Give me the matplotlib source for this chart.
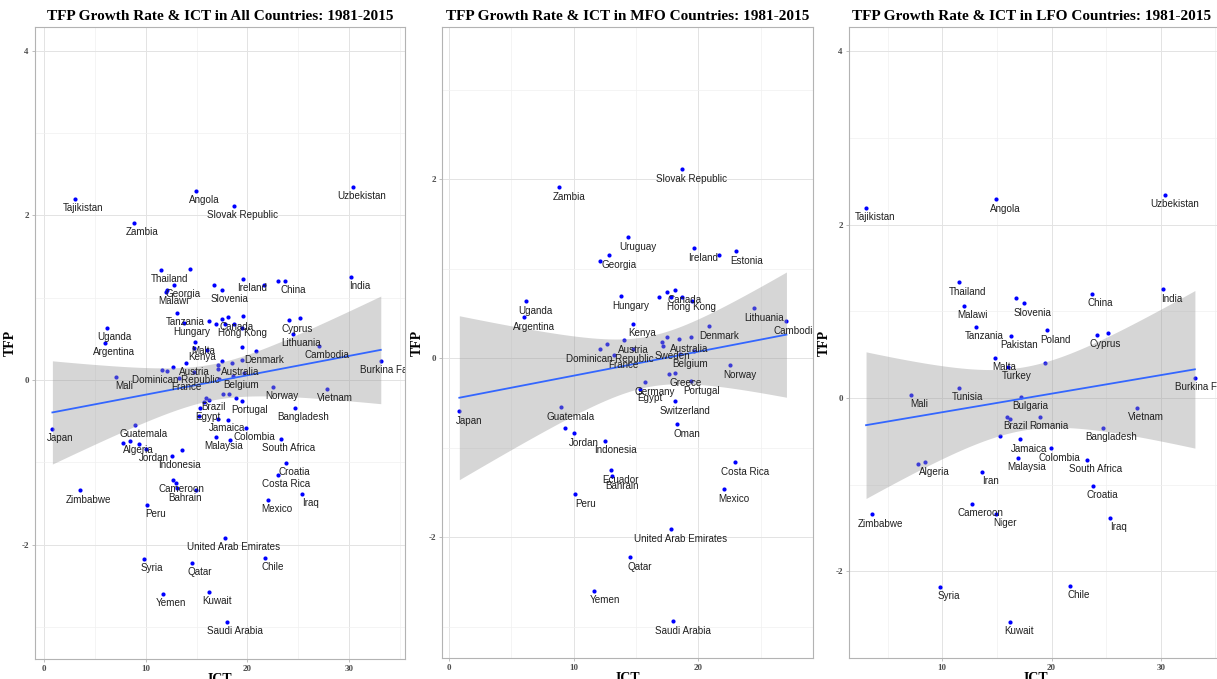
import numpy as np
import matplotlib
matplotlib.use("Agg")
import matplotlib.pyplot as plt
from matplotlib.ticker import MultipleLocator

plt.rcParams["axes.unicode_minus"] = False

# MFO countries ("" = point whose label never gets drawn)
mfo_country = ["Slovak Republic", "Zambia", "Uruguay", "", "Georgia", "Ireland", "", "Estonia",
               "Hungary", "", "", "Canada", "", "Hong Kong", "", "Uganda", "Argentina", "Kenya",
               "Lithuania", "Cambodia", "Denmark", "Dominican Republic", "", "Austria", "", "", "",
               "Sweden", "Australia", "", "France", "Belgium", "", "Norway", "", "Greece", "Germany",
               "Egypt", "Portugal", "Switzerland", "Oman", "Guatemala", "", "Jordan", "Indonesia",
               "Ecuador", "Bahrain", "Peru", "Mexico", "Costa Rica", "United Arab Emirates", "Qatar",
               "Yemen", "Saudi Arabia", "Japan"]
mfo_ict = [18.69, 8.86, 14.38, 12.13, 12.83, 19.62, 21.66, 23.05,
           13.76, 16.87, 17.46, 18.10, 17.83, 18.69, 19.49, 6.16, 6.05, 14.73,
           24.44, 27.07, 20.86, 12.13, 12.67, 14.00, 14.76, 17.08, 17.51,
           17.13, 18.47, 19.44, 13.23, 18.55, 19.65, 22.57, 17.61, 18.15, 15.69,
           15.34, 19.44, 18.10, 18.29, 8.97, 9.32, 10.04, 12.55,
           12.99, 13.09, 10.14, 22.06, 22.97, 17.81, 14.54,
           11.67, 17.97, 0.83]
mfo_tfp = [2.11, 1.91, 1.355, 1.09, 1.15, 1.226, 1.15, 1.20,
           0.696, 0.685, 0.737, 0.76, 0.685, 0.685, 0.637, 0.637, 0.455, 0.387,
           0.555, 0.417, 0.357, 0.105, 0.160, 0.204, 0.10, 0.182, 0.235,
           0.131, 0.212, 0.238, 0.03, 0.045, 0.08, -0.08, -0.175, -0.171, -0.268,
           -0.339, -0.257, -0.484, -0.734, -0.551, -0.782, -0.835, -0.92,
           -1.248, -1.318, -1.52, -1.46, -1.159, -1.914, -2.227,
           -2.596, -2.94, -0.589]

# LFO countries
lfo_country = ["Tajikistan", "Angola", "Uzbekistan", "Thailand", "India", "China", "", "Slovenia",
               "Malawi", "Tanzania", "Pakistan", "Poland", "Cyprus", "", "Malta", "Turkey", "",
               "Tunisia", "Mali", "Bulgaria", "Brazil", "", "Romania", "Vietnam", "Bangladesh", "",
               "Jamaica", "Colombia", "Malaysia", "South Africa", "", "Algeria", "Iran", "Croatia",
               "Cameroon", "Niger", "Zimbabwe", "Iraq", "Syria", "Chile", "Kuwait", "Burkina Faso"]
lfo_ict = [3.03, 14.95, 30.43, 11.53, 30.21, 23.67, 16.76, 17.46,
           11.96, 13.06, 16.27, 19.57, 24.13, 25.20, 14.86, 16.03, 19.45,
           11.56, 7.13, 17.22, 15.90, 16.24, 18.93, 27.80, 24.68, 15.26,
           17.16, 19.91, 16.91, 23.27, 7.80, 8.44, 13.61, 23.82,
           12.72, 14.95, 3.58, 25.38, 9.82, 21.71, 16.18, 33.12]
lfo_tfp = [2.195, 2.295, 2.345, 1.334, 1.257, 1.203, 1.157, 1.092,
           1.065, 0.82, 0.719, 0.78, 0.727, 0.75, 0.465, 0.361, 0.40,
           0.119, 0.035, 0.012, -0.219, -0.242, -0.215, -0.112, -0.342, -0.438,
           -0.477, -0.58, -0.688, -0.711, -0.761, -0.742, -0.853, -1.01,
           -1.219, -1.334, -1.342, -1.384, -2.18, -2.168, -2.58, 0.231]

# labels dropped in the all-countries panel because they overlap
hidden_all = {"Uruguay", "Estonia", "Sweden", "Greece", "Germany", "Switzerland", "Oman", "Ecuador",
              "Pakistan", "Poland", "Turkey", "Tunisia", "Bulgaria", "Romania", "Iran", "Niger"}

SERIF = ["Liberation Serif", "DejaVu Serif"]
SANS = ["Liberation Sans", "DejaVu Sans"]


def t975(df):
    # Cornish-Fisher approximation of the 97.5% t quantile
    z = 1.959964
    return z + (z**3 + z) / (4 * df) + (5 * z**5 + 16 * z**3 + 3 * z) / (96 * df**2)


def lm_band(x, y, n=80):
    x = np.asarray(x)
    y = np.asarray(y)
    b1, b0 = np.polyfit(x, y, 1)
    res = y - (b0 + b1 * x)
    s = np.sqrt(np.sum(res**2) / (len(x) - 2))
    xs = np.linspace(x.min(), x.max(), n)
    se = s * np.sqrt(1 / len(x) + (xs - x.mean())**2 / np.sum((x - x.mean())**2))
    fit = b0 + b1 * xs
    t = t975(len(x) - 2)
    return xs, fit, fit - t * se, fit + t * se


def draw_panel(ax, title, names, ict, tfp, hide, xlim, ylim, xticks, yticks):
    ax.set_facecolor("white")
    for sp in ax.spines.values():
        sp.set_color("#B3B3B3")
        sp.set_linewidth(0.8)
    ax.set_xlim(*xlim)
    ax.set_ylim(*ylim)
    ax.set_xticks(xticks)
    ax.set_yticks(yticks)
    ax.xaxis.set_minor_locator(MultipleLocator(5))
    ax.yaxis.set_minor_locator(MultipleLocator(1))
    ax.grid(which="major", color="#E3E3E3", lw=0.7)
    ax.grid(which="minor", color="#F0F0F0", lw=0.5)
    ax.set_axisbelow(True)
    ax.tick_params(which="major", length=2.5, width=0.6, color="#B3B3B3",
                   labelsize=6.5, labelcolor="#4D4D4D", pad=2)
    ax.tick_params(which="minor", length=0)
    for lab in ax.get_xticklabels() + ax.get_yticklabels():
        lab.set_family(SERIF)
        lab.set_fontweight("bold")

    ax.scatter(ict, tfp, s=9, color="#0000FF", zorder=2, linewidths=0)
    xs, fit, lo, hi = lm_band(ict, tfp)
    ax.fill_between(xs, lo, hi, color="#999999", alpha=0.4, lw=0, zorder=3)
    ax.plot(xs, fit, color="#3366FF", lw=1.3, zorder=4)

    for nm, x, y in zip(names, ict, tfp):
        if nm and nm not in hide:
            ax.text(x + 0.8, y - 0.11, nm, ha="center", va="center", fontsize=7.1,
                    family=SANS, color="#1F1F1F", zorder=5, clip_on=True)

    ax.set_title(title, family=SERIF, fontweight="bold", fontsize=11, pad=5)
    ax.set_xlabel("ICT", family=SERIF, fontweight="bold", fontsize=10, labelpad=0)
    ax.set_ylabel("TFP", family=SERIF, fontweight="bold", fontsize=10, labelpad=3)


fig = plt.figure(figsize=(12.17, 6.79), dpi=100)
ax1 = fig.add_axes([35 / 1217, 20 / 679, 370 / 1217, 632 / 679])
ax2 = fig.add_axes([442 / 1217, 21 / 679, 371 / 1217, 631 / 679])
ax3 = fig.add_axes([849 / 1217, 21 / 679, 373 / 1217, 631 / 679])

all_names = mfo_country + lfo_country
all_ict = mfo_ict + lfo_ict
all_tfp = mfo_tfp + lfo_tfp

draw_panel(ax1, "TFP Growth Rate & ICT in All Countries: 1981-2015", all_names, all_ict, all_tfp,
           hidden_all, (-0.88, 35.5), (-3.39, 4.29), [0, 10, 20, 30], [-2, 0, 2, 4])
draw_panel(ax2, "TFP Growth Rate & ICT in MFO Countries: 1981-2015", mfo_country, mfo_ict, mfo_tfp,
           set(), (-0.56, 29.2), (-3.35, 3.70), [0, 10, 20], [-2, 0, 2])
draw_panel(ax3, "TFP Growth Rate & ICT in LFO Countries: 1981-2015", lfo_country, lfo_ict, lfo_tfp,
           set(), (1.47, 35.6), (-3.0, 4.28), [10, 20, 30], [-2, 0, 2, 4])
# third panel runs off the right edge of the figure, so centre its title on the visible part
ax3.title.set_position((0.49, 1.0))

fig.savefig("out.png", dpi=100)
